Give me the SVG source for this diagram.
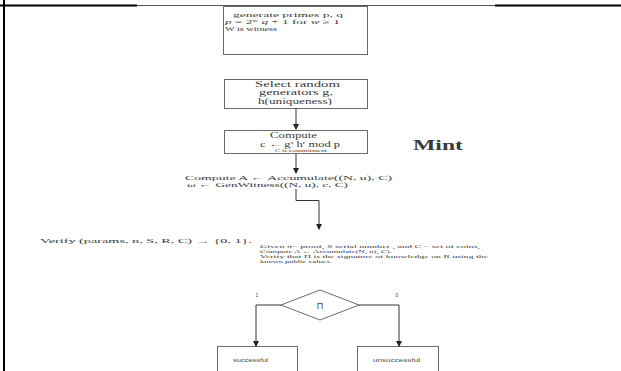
<svg xmlns="http://www.w3.org/2000/svg" width="621" height="371" viewBox="0 0 621 371">
  <style>
    .box { fill: #fff; stroke: #6a6a6a; stroke-width: 1; }
    .t { font-family: "Liberation Serif", serif; fill: #3a3a3a; }
    .s { font-family: "Liberation Sans", sans-serif; fill: #4a4a4a; }
    .conn { fill: none; stroke: #333; stroke-width: 1; }
  </style>
  <defs>
    <marker id="arr" markerWidth="6" markerHeight="6" refX="5" refY="3" orient="auto" markerUnits="userSpaceOnUse">
      <path d="M0,0 L6,3 L0,6 Z" fill="#222"/>
    </marker>
  </defs>
  <rect width="621" height="371" fill="#fff"/>

  <!-- page frame -->
  <g id="frame">
    <line x1="0" y1="5.5" x2="137" y2="5.5" stroke="#000" stroke-width="2"/>
    <line x1="137" y1="5.5" x2="495" y2="5.5" stroke="#555" stroke-width="1"/>
    <line x1="495" y1="5.5" x2="621" y2="5.5" stroke="#000" stroke-width="2"/>
    <line x1="4" y1="0" x2="4" y2="371" stroke="#000" stroke-width="2"/>
  </g>

  <g id="primes">
    <rect class="box" x="223.5" y="6.5" width="144" height="48"/>
    <text class="t" font-size="6.5" x="233" y="17" textLength="110" lengthAdjust="spacingAndGlyphs">generate primes p, q</text>
    <text class="t" font-size="6.5" x="225" y="24" textLength="115" lengthAdjust="spacingAndGlyphs"><tspan font-style="italic">p</tspan> = 2<tspan font-size="4" dy="-2.5">w</tspan><tspan dy="2.5"> </tspan><tspan font-style="italic">q</tspan> + 1 for <tspan font-style="italic">w</tspan> ≥ 1</text>
    <text class="t" font-size="6.5" x="225" y="31" textLength="52" lengthAdjust="spacingAndGlyphs">W is witness</text>
  </g>

  <g id="generators">
    <rect class="box" x="224.5" y="79.5" width="143" height="29"/>
    <text class="t" font-size="8" x="255" y="87" textLength="85" lengthAdjust="spacingAndGlyphs">Select  random</text>
    <text class="t" font-size="8" x="259" y="95" textLength="74" lengthAdjust="spacingAndGlyphs">generators g,</text>
    <text class="t" font-size="8" x="258" y="104" textLength="74" lengthAdjust="spacingAndGlyphs">h(uniqueness)</text>
  </g>

  <g id="commit">
    <rect class="box" x="224.5" y="130.5" width="143" height="23"/>
    <text class="t" font-size="8" x="270" y="138" textLength="47" lengthAdjust="spacingAndGlyphs">Compute</text>
    <text class="t" font-size="8" x="260" y="146.5" textLength="80" lengthAdjust="spacingAndGlyphs">c ← g<tspan font-size="5" dy="-3">s</tspan><tspan dy="3"> h</tspan><tspan font-size="5" dy="-3">r</tspan><tspan dy="3">  mod p</tspan></text>
    <text class="t" font-size="3.5" x="275" y="151.5" textLength="52" lengthAdjust="spacingAndGlyphs">C is commitment</text>
  </g>

  <g id="accumulate">
    <text class="t" font-size="7" x="185" y="180" textLength="207" lengthAdjust="spacingAndGlyphs">Compute  A ← Accumulate((N, u), C)</text>
    <text class="t" font-size="7" x="187" y="187" textLength="161" lengthAdjust="spacingAndGlyphs">ω ← GenWitness((N, u), c, C)</text>
  </g>

  <g id="mint">
    <text class="t" font-size="15" font-weight="bold" x="413" y="150" fill="#222" textLength="50" lengthAdjust="spacingAndGlyphs">Mint</text>
  </g>

  <g id="verify">
    <text class="t" font-size="5.5" x="40" y="243" textLength="212" lengthAdjust="spacingAndGlyphs">Verify (params, n, S, R, C) → {0, 1}.</text>
    <text class="t" font-size="5" x="260" y="247.5" textLength="220" lengthAdjust="spacingAndGlyphs">Given π= proof, S serial number , and C = set of coins,</text>
    <text class="t" font-size="5" x="260" y="252.5" textLength="132" lengthAdjust="spacingAndGlyphs">Compute A ← Accumulate(N, u), C).</text>
    <text class="t" font-size="5" x="260" y="257.5" textLength="228" lengthAdjust="spacingAndGlyphs">Verify that Π is the signature of knowledge on R using the</text>
    <text class="t" font-size="5" x="260" y="262.5" textLength="72" lengthAdjust="spacingAndGlyphs">known public values.</text>
  </g>

  <g id="decision">
    <polygon class="box" points="281,305 320,290 359,305 320,320"/>
    <text class="s" font-size="9" x="320" y="308.5" text-anchor="middle">Π</text>
  </g>

  <g id="success">
    <rect class="box" x="217.5" y="346.5" width="80" height="30"/>
    <text class="s" font-size="4.5" x="233" y="361.5" textLength="35" lengthAdjust="spacingAndGlyphs">successful</text>
  </g>

  <g id="failure">
    <rect class="box" x="357.5" y="346.5" width="81" height="30"/>
    <text class="s" font-size="4.5" x="373" y="361.5" textLength="47" lengthAdjust="spacingAndGlyphs">unsuccessful</text>
  </g>

  <g id="connectors">
    <line class="conn" x1="296" y1="108" x2="296" y2="129" marker-end="url(#arr)"/>
    <line class="conn" x1="296" y1="154" x2="296" y2="173" marker-end="url(#arr)"/>
    <polyline class="conn" points="296,189 296,200.5 319,200.5 319,229" marker-end="url(#arr)"/>
    <polyline class="conn" points="281,305 256,305 256,346" marker-end="url(#arr)"/>
    <polyline class="conn" points="359,305 399,305 399,346" marker-end="url(#arr)"/>
    <text class="s" font-size="5" x="257" y="297" text-anchor="middle">1</text>
    <text class="s" font-size="5" x="397" y="297" text-anchor="middle">0</text>
  </g>
</svg>
